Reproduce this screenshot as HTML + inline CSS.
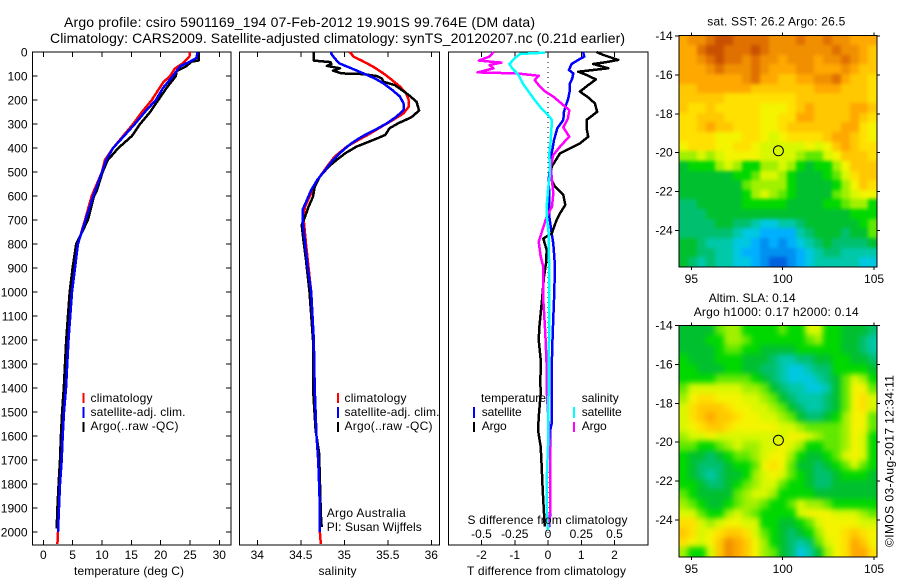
<!DOCTYPE html>
<html>
<head>
<meta charset="utf-8">
<title>Argo profile</title>
<style>
html,body{margin:0;padding:0;background:#fff;}
svg{display:block;font-family:"Liberation Sans",sans-serif;font-size:12px;fill:#000;}
</style>
</head>
<body>
<svg id="chart" width="900" height="580" viewBox="0 0 900 580" xmlns="http://www.w3.org/2000/svg">
<defs>
<filter id="soft1" x="-5%" y="-5%" width="110%" height="110%" color-interpolation-filters="sRGB"><feGaussianBlur stdDeviation="1.8"/></filter>
<filter id="soft2" x="-5%" y="-5%" width="110%" height="110%" color-interpolation-filters="sRGB"><feGaussianBlur stdDeviation="3"/></filter>
<clipPath id="clip1"><rect x="679" y="35.5" width="198" height="231.5"/></clipPath>
<clipPath id="clip2"><rect x="679" y="325.5" width="198" height="231.5"/></clipPath>
</defs>
<rect width="900" height="580" fill="#fff"/>
<text x="64" y="27" font-size="14" textLength="471">Argo profile: csiro 5901169_194 07-Feb-2012 19.901S 99.764E (DM data)</text>
<text x="50" y="43" font-size="14" textLength="575">Climatology: CARS2009. Satellite-adjusted climatology: synTS_20120207.nc (0.21d earlier)</text>

<g clip-path="url(#clip1)"><g id="heat1" filter="url(#soft1)"></g></g>
<g clip-path="url(#clip2)"><g id="heat2" filter="url(#soft2)"></g></g>
<g id="axes"></g>
<g id="lines"></g>

<text x="74" y="575" textLength="110">temperature (deg C)</text>
<text x="318.5" y="575" textLength="38">salinity</text>
<text x="467" y="575" textLength="159">T difference from climatology</text>
<text x="467.5" y="524" textLength="160">S difference from climatology</text>

<g>
<rect x="82.5" y="393" width="2" height="10" fill="#f00"/>
<rect x="82.5" y="407" width="2" height="11" fill="#00f"/>
<rect x="82.5" y="422" width="2" height="10" fill="#000"/>
<text x="90.5" y="402" textLength="62">climatology</text>
<text x="90.5" y="416" textLength="95">satellite-adj. clim.</text>
<text x="90.5" y="430" textLength="88">Argo(..raw -QC)</text>
</g>
<g>
<rect x="337" y="393" width="2" height="10" fill="#f00"/>
<rect x="337" y="407" width="2" height="11" fill="#00f"/>
<rect x="337" y="422" width="2" height="10" fill="#000"/>
<text x="344.5" y="402" textLength="62">climatology</text>
<text x="344.5" y="416" textLength="95">satellite-adj. clim.</text>
<text x="344.5" y="430" textLength="88">Argo(..raw -QC)</text>
</g>
<text x="326.7" y="517" textLength="79">Argo Australia</text>
<text x="326.7" y="531" textLength="95">PI: Susan Wijffels</text>
<g>
<text x="481" y="402" textLength="65">temperature</text>
<text x="581.7" y="402" textLength="37">salinity</text>
<rect x="473" y="407" width="2" height="11" fill="#00f"/>
<rect x="473" y="422" width="2" height="10" fill="#000"/>
<rect x="573" y="407" width="2" height="11" fill="#0ff"/>
<rect x="573" y="422" width="2" height="10" fill="#f0f"/>
<text x="481.7" y="416" textLength="40">satellite</text>
<text x="481.7" y="430" textLength="25">Argo</text>
<text x="581.7" y="416" textLength="40">satellite</text>
<text x="581.7" y="430" textLength="25">Argo</text>
</g>

<text x="707.3" y="25.5" textLength="138">sat. SST: 26.2 Argo: 26.5</text>
<text x="708.7" y="302" textLength="87">Altim. SLA: 0.14</text>
<text x="693.7" y="316" textLength="165">Argo h1000: 0.17 h2000: 0.14</text>
<text transform="translate(893.5 547) rotate(-90)" textLength="172">©IMOS 03-Aug-2017 12:34:11</text>

<script>
/* ---------- data ---------- */
const depthTicks = [0,100,200,300,400,500,600,700,800,900,1000,1100,1200,1300,1400,1500,1600,1700,1800,1900,2000];
const tempTicks = [0,5,10,15,20,25,30];
const salTicks = [34,34.5,35,35.5,36];
const tDiffTicks = [-2,-1,0,1,2];
const sDiffTicks = [-0.5,-0.25,0,0.25,0.5];
const sDiffTickLabels = ['-0.5','-0.25','0','0.25','0.5'];
const lonTicks = [95,100,105];
const latTicks = [-14,-16,-18,-20,-22,-24];
const argoLon = [99.764];
const argoLat = [-19.901];

const tempClimDepth = [0,20,50,70,100,125,150,200,250,300,350,400,450,500,600,700,800,900,1000,1200,1400,1500,1600,1700,1800,1900,2000,2050];
const tempClimValues = [25,24.9,23.6,22.4,21.6,20.5,19.8,18.5,16.8,15.3,13.6,11.9,10.5,10,8.25,7.1,5.9,5.4,4.9,4.3,3.87,3.53,3.3,3.13,2.85,2.68,2.5,2.4];
const tempSatDepth = [0,25,40,60,80,100,150,200,250,300,350,400,450,500,600,700,800,900,1000,1200,1400,1500,1600,1700,1800,1900,2000];
const tempSatValues = [26.3,26.1,25,23.3,22.7,22.1,20.4,19.2,17.3,15.6,13.75,11.9,10.7,10,8.5,7.2,5.9,5.4,4.9,4.3,3.87,3.53,3.3,3.13,2.85,2.68,2.5];
const tempArgoDepth = [0,35,40,60,80,100,150,200,250,300,350,400,450,500,575,600,700,800,900,1000,1200,1400,1500,1600,1700,1800,1900,1985];
const tempArgoValues = [26.5,26.5,25.3,24.3,22.7,22.6,21,19.6,18.2,16.5,15.1,12.8,11,10.1,9.15,8.65,7.6,5.6,5,4.5,3.9,3.5,3.2,3,2.85,2.6,2.4,2.28];

const salClimDepth = [0,20,36,61,89,117,144,172,200,228,256,283,311,339,367,394,436,478,519,561,603,644,686,800,900,1000,1200,1400,1500,1600,1700,1800,1900,2000,2050];
const salClimValues = [35.06,35.11,35.2,35.33,35.45,35.55,35.64,35.71,35.74,35.74,35.68,35.56,35.43,35.3,35.16,35.03,34.89,34.8,34.72,34.66,34.6,34.55,34.53,34.56,34.59,34.62,34.65,34.66,34.67,34.68,34.7,34.71,34.72,34.72,34.73];
const salSatDepth = [0,8,26,47,68,89,110,131,158,186,214,242,269,297,325,353,381,408,450,492,533,575,617,658,700,800,900,1000,1200,1400,1500,1600,1700,1800,1900,2000];
const salSatValues = [34.85,34.85,34.89,34.94,35.08,35.22,35.35,35.45,35.55,35.64,35.68,35.68,35.6,35.49,35.35,35.2,35.08,34.99,34.87,34.78,34.69,34.62,34.57,34.52,34.52,34.55,34.58,34.62,34.65,34.66,34.67,34.68,34.7,34.71,34.72,34.72];
const salArgoDepth = [0,36,42,50,58,68,78,89,92,100,110,124,138,158,179,207,244,272,297,318,346,367,394,422,450,478,519,561,603,644,686,720,783,867,1000,1200,1400,1575,1671,1786,1925,1980];
const salArgoValues = [34.65,34.65,34.84,34.85,34.8,34.95,34.87,34.97,35.22,35.37,35.43,35.45,35.58,35.66,35.74,35.83,35.86,35.77,35.62,35.52,35.47,35.33,35.14,35.01,34.91,34.82,34.72,34.66,34.64,34.59,34.55,34.51,34.53,34.56,34.6,34.64,34.64,34.67,34.71,34.72,34.73,34.74];

const tDiffSatDepth = [0,19,33,50,75,89,110,131,158,193,221,249,283,318,367,422,478,533,603,686,756,798,895,1033,1172,1311,1450,1547,1575,1645,1853,1922,1980];
const tDiffSatValues = [1.06,1.09,0.91,0.71,0.63,0.76,0.73,0.66,0.66,0.61,0.54,0.48,0.46,0.28,0.18,0.11,0.06,0.02,0.04,0.04,0.11,0.16,0.21,0.18,0.14,0.11,0.11,0.11,0.07,0.07,0.07,0.07,0.03];
const tDiffArgoDepth = [0,12,33,42,50,68,82,96,114,138,165,189,214,249,283,318,353,381,422,478,519,561,596,637,672,700,756,777,825,881,936,1033,1144,1200,1283,1381,1422,1506,1575,1645,1728,1825,1922,1978];
const tDiffArgoValues = [1.46,1.66,2.11,1.76,1.36,1.81,0.91,1.16,1.44,1.21,0.96,1.21,1.41,1.48,1.16,1.16,1.21,0.96,0.36,0.11,0.06,0.21,0.46,0.52,0.36,0.26,0.11,-0.14,-0.04,-0.06,-0.12,-0.18,-0.26,-0.28,-0.22,-0.23,-0.22,-0.27,-0.3,-0.22,-0.19,-0.16,-0.12,-0.1];
const sDiffSatDepth = [3,8,26,50,68,96,131,158,200,235,263,283,367,422,506,575,644,686,756,895,1033,1172,1311,1506,1645,1783,1922,1992];
const sDiffSatValues = [-0.023,-0.21,-0.25,-0.29,-0.27,-0.22,-0.19,-0.155,-0.1,-0.05,0,0.03,0.02,0.01,0.015,0,-0.01,-0.01,0.005,0.008,0.01,0.008,0.005,0.003,0,-0.01,-0.008,0];
const sDiffArgoDepth = [0,19,36,44,54,68,85,89,99,117,138,165,186,214,242,276,314,353,388,429,478,533,589,644,686,756,791,853,895,1033,1172,1242,1311,1409,1645,1783,1922,1978];
const sDiffArgoValues = [-0.41,-0.44,-0.52,-0.35,-0.44,-0.41,-0.53,-0.235,-0.07,-0.1,-0.07,-0.02,0.04,0.1,0.16,0.15,0.115,0.16,0.1,0.04,0.02,0.03,0.04,0.03,-0.01,-0.05,-0.07,-0.055,-0.035,-0.035,-0.02,-0.015,-0.01,-0.01,0.015,0.015,0.015,0.005];

/* colour levels per map cell, 0 = coldest/lowest, 17 = warmest/highest */
const sstLevels = [
[14,15,15,16,17,17,16,16,16,16,15,15,15,16,15,15,16,15,15,14,14,14],
[14,14,16,17,17,16,16,16,17,16,15,15,15,15,15,15,15,16,15,15,14,13],
[14,14,15,16,17,16,16,15,16,15,15,14,15,15,15,14,15,15,16,15,14,13],
[14,14,14,15,16,15,15,15,16,15,14,14,14,15,15,14,14,14,15,14,13,13],
[14,14,14,14,14,14,14,15,16,14,14,13,13,14,14,15,15,16,14,13,13,12],
[13,13,14,14,14,14,14,14,13,13,13,13,13,13,13,14,14,14,13,13,13,12],
[13,13,13,13,13,12,12,12,12,12,12,12,12,13,13,13,13,13,13,13,13,12],
[13,12,12,13,12,12,12,12,12,11,11,11,12,13,14,13,13,13,13,14,14,13],
[12,12,13,13,13,12,12,12,12,11,11,12,12,14,14,13,13,13,13,14,13,12],
[12,12,13,14,13,13,12,12,12,11,11,12,13,13,13,13,13,13,14,14,12,11],
[12,12,12,12,11,11,11,12,12,11,10,11,12,12,12,12,13,14,14,13,12,11],
[11,12,12,12,11,11,12,12,11,10,10,10,10,10,11,10,11,13,14,13,12,12],
[9,9,10,9,10,11,11,11,11,10,10,10,10,9,8,8,10,11,13,13,13,12],
[6,7,7,7,9,10,9,7,7,9,9,10,9,7,6,7,7,9,11,13,13,13],
[6,6,6,6,6,6,7,7,8,10,10,9,7,6,6,6,7,8,10,12,13,13],
[6,6,6,6,6,6,6,8,9,9,9,9,7,6,6,6,6,7,9,11,13,12],
[6,6,6,6,6,6,6,7,9,10,9,8,7,6,6,6,6,8,9,10,11,11],
[5,5,6,6,6,6,6,7,7,7,7,7,6,6,6,6,7,7,8,9,9,7],
[5,5,5,6,6,6,6,6,6,6,6,6,6,6,6,6,6,6,6,7,7,7],
[5,5,5,5,6,6,5,5,4,3,3,4,4,5,6,6,6,6,6,6,7,8],
[5,5,5,5,5,5,4,3,3,2,2,2,2,4,5,6,6,6,5,6,6,8],
[6,6,5,4,4,4,3,3,2,1,2,1,2,3,4,5,6,5,5,5,5,6],
[6,6,5,5,4,4,3,2,2,1,1,1,1,2,3,4,5,5,4,4,4,4],
[6,5,4,5,4,4,3,3,2,1,0,0,1,2,3,4,4,4,4,4,3,3]
];
const slaLevels = [
[6,6,6,6,8,9,9,7,7,7,7,8,7,7,10,10,7,7,6,6,6,5],
[6,6,6,7,7,9,9,8,7,7,7,7,7,7,8,9,7,7,6,6,5,4],
[6,6,6,6,7,8,8,7,7,6,6,6,6,7,7,7,7,7,6,6,5,4],
[7,6,6,6,7,7,7,6,6,6,5,4,4,5,5,6,6,7,7,6,6,5],
[7,7,6,6,6,7,7,6,6,5,5,4,3,3,4,5,5,7,7,7,7,6],
[7,7,7,7,8,8,8,8,7,6,5,4,3,3,3,4,5,6,8,10,9,7],
[8,10,10,10,10,10,10,9,9,8,6,5,4,4,3,3,4,6,8,11,11,8],
[9,11,12,12,11,11,11,10,10,9,8,6,5,4,4,4,5,6,8,11,12,10],
[10,12,13,13,13,12,11,11,10,10,9,8,6,5,4,4,5,6,8,11,12,10],
[10,12,13,14,13,13,12,11,11,10,10,9,8,6,5,5,6,7,9,11,11,8],
[10,11,12,13,13,12,11,11,11,11,11,10,10,9,8,8,8,8,9,11,11,8],
[9,10,10,11,10,10,10,10,10,10,10,10,11,11,10,9,8,8,9,11,10,7],
[8,8,7,7,8,9,10,9,9,10,10,11,10,9,7,7,8,8,9,11,10,7],
[7,6,6,5,6,7,8,8,9,10,11,11,9,7,6,6,7,8,10,11,10,7],
[7,6,5,5,5,6,7,7,8,11,12,11,8,6,6,5,6,7,8,10,8,7],
[7,6,5,4,5,6,6,7,9,10,11,10,8,7,6,5,5,6,7,7,7,6],
[7,7,6,5,5,6,7,8,9,10,10,8,7,7,6,5,5,6,6,6,6,6],
[8,7,6,6,6,6,8,9,10,10,9,7,7,7,7,6,6,6,6,6,6,6],
[9,8,7,6,6,7,8,9,9,8,7,7,8,10,9,9,8,7,7,7,7,7],
[10,10,8,7,7,9,10,9,8,7,7,7,7,10,11,11,11,10,10,10,9,8],
[12,12,10,9,10,11,11,10,10,7,7,6,6,7,8,10,11,11,11,11,10,10],
[13,12,10,11,12,13,13,12,10,8,7,6,5,6,7,9,11,11,12,13,12,11],
[12,11,10,11,13,15,14,13,11,9,7,6,5,4,5,8,10,11,12,14,13,11],
[9,7,7,10,13,15,14,13,11,9,8,6,5,3,4,6,9,11,12,14,14,12]
];

/* ---------- scales ---------- */
const NS = 'http://www.w3.org/2000/svg';
const axesLayer = document.getElementById('axes');
const lineLayer = document.getElementById('lines');
const TOP = 52, BOTTOM = 545;
function yDepth(d){ return TOP + 0.24 * d; }
function xTemp(v){ return 43.3 + 5.867 * v; }
function xSal(v){ return 257.3 + 87 * (v - 34); }
function xTDiff(v){ return 548 + 33.25 * v; }
function xSDiff(v){ return 548 + 133 * v; }
function xLon(v){ return 782.7 + 18.27 * (v - 100); }
function yLatTop(v){ return 36 + 19.45 * (-14 - v); }
function yLatBottom(v){ return 325.5 + 19.45 * (-14 - v); }

const palette = ['#0060e0','#0090f0','#00b0ff','#00c8e0','#00c8a8','#00c070','#00c030','#00d800','#60e800','#a0f000','#d8f800','#f4f400','#ffe000','#ffc800','#ffa800','#f09000','#e07000','#c85000'];
function levelColor(v){ return palette[Math.max(0, Math.min(palette.length - 1, Math.round(v)))]; }

function mk(tag, attrs, parent, txt){
  const el = document.createElementNS(NS, tag);
  for (const k in attrs) el.setAttribute(k, attrs[k]);
  if (txt !== undefined) el.textContent = txt;
  parent.appendChild(el);
  return el;
}

/* ---------- axes ---------- */
function tickLine(x1, y1, x2, y2){
  const el = mk('line', {x1:x1, y1:y1, x2:x2, y2:y2, stroke:'#000', 'stroke-width':1, 'shape-rendering':'crispEdges'}, axesLayer);
  
  
}
function tickLabel(x, y, anchor, txt){
  const el = mk('text', {x:x, y:y, 'text-anchor':anchor}, axesLayer, txt);
  
  
}
function frame(x, y, w, h){
  const el = mk('rect', {x:x, y:y, width:w, height:h, fill:'none', stroke:'#000', 'stroke-width':1, 'shape-rendering':'crispEdges'}, axesLayer);
  
  
}
function profileXTicks(ticks, scale, labels, labelY){
  ticks.forEach(function(v, i){
    const x = scale(v);
    tickLine(x, BOTTOM, x, BOTTOM - 5);
    tickLine(x, TOP, x, TOP + 5);
    if (labels) tickLabel(x, labelY, 'middle', labels[i]);
  });
}
frame(32.5, TOP, 198.5, BOTTOM - TOP);
frame(239.5, TOP, 200, BOTTOM - TOP);
frame(448.5, TOP, 199.5, BOTTOM - TOP);
profileXTicks(tempTicks, xTemp, tempTicks.map(String), 559);
profileXTicks(salTicks, xSal, salTicks.map(String), 559);
profileXTicks(tDiffTicks, xTDiff, tDiffTicks.map(String), 559);
sDiffTicks.forEach(function(v, i){
  tickLabel(xSDiff(v), 538, 'middle', sDiffTickLabels[i]);
});
depthTicks.forEach(function(d){
  const y = yDepth(d);
  tickLine(32.5, y, 37.5, y);
  tickLine(231, y, 226, y);
  tickLabel(27.5, y + 4.5, 'end', String(d));
});

function mapAxes(yScale, yBox, labelY){
  frame(679, yBox, 198, 231.5);
  lonTicks.forEach(function(v){
    const x = xLon(v);
    tickLine(x, yBox, x, yBox - 3);
    tickLine(x, yBox + 231.5, x, yBox + 234.5);
    tickLabel(x, labelY, 'middle', String(v));
  });
  latTicks.forEach(function(v){
    const y = yScale(v);
    tickLine(679, y, 675, y);
    tickLine(877, y, 880, y);
    tickLabel(672.7, y + 4, 'end', String(v));
  });
  const c = mk('circle', {cx:xLon(argoLon[0]), cy:yScale(argoLat[0]), r:5, fill:'none', stroke:'#000', 'stroke-width':1}, axesLayer);
  
  
}

/* ---------- heat maps ---------- */
function drawHeat(levels, groupId, yTop, yBottom){
  const g = document.getElementById(groupId);
  const left = 679.3, right = 877, pad = 10;
  const w = (right - left) / levels[0].length;
  const h = (yBottom - yTop) / levels.length;
  levels.forEach(function(row, r){
    row.forEach(function(v, c){
      const x0 = Math.round(left + c * w) - (c === 0 ? pad : 0);
      const x1 = Math.round(left + (c + 1) * w) + (c === row.length - 1 ? pad : 0);
      const y0 = Math.round(yTop + r * h) - (r === 0 ? pad : 0);
      const y1 = Math.round(yTop + (r + 1) * h) + (r === levels.length - 1 ? pad : 0);
      const cell = mk('rect', {x:x0, y:y0, width:x1 - x0, height:y1 - y0, fill:levelColor(v), 'shape-rendering':'crispEdges'}, g);
      
      
    });
  });
}
drawHeat(sstLevels, 'heat1', 35.5, 267);
drawHeat(slaLevels, 'heat2', 325.5, 557);
mapAxes(yLatTop, 35.5, 283);
mapAxes(yLatBottom, 325.5, 573);

/* ---------- profile lines ---------- */
function drawLine(depths, values, scale, color, name){
  const pts = values.map(function(v, i){ return scale(v).toFixed(1) + ',' + yDepth(depths[i]).toFixed(1); }).join(' ');
  const el = mk('polyline', {points:pts, fill:'none', stroke:color, 'stroke-width':2.5, 'stroke-linejoin':'round', 'shape-rendering':'crispEdges'}, lineLayer);
  
  
}
const zero = mk('line', {x1:xTDiff(0), y1:TOP, x2:xTDiff(0), y2:BOTTOM, stroke:'#000', 'stroke-width':1, 'stroke-dasharray':'1 4', 'shape-rendering':'crispEdges'}, lineLayer);



drawLine(tempClimDepth, tempClimValues, xTemp, '#f00', 'temperature-climatology-line');
drawLine(tempArgoDepth, tempArgoValues, xTemp, '#000', 'temperature-argo-line');
drawLine(tempSatDepth, tempSatValues, xTemp, '#00f', 'temperature-satellite-line');
drawLine(salClimDepth, salClimValues, xSal, '#f00', 'salinity-climatology-line');
drawLine(salArgoDepth, salArgoValues, xSal, '#000', 'salinity-argo-line');
drawLine(salSatDepth, salSatValues, xSal, '#00f', 'salinity-satellite-line');
drawLine(tDiffSatDepth, tDiffSatValues, xTDiff, '#00f', 't-difference-satellite-line');
drawLine(tDiffArgoDepth, tDiffArgoValues, xTDiff, '#000', 't-difference-argo-line');
drawLine(sDiffArgoDepth, sDiffArgoValues, xSDiff, '#f0f', 's-difference-argo-line');
drawLine(sDiffSatDepth, sDiffSatValues, xSDiff, '#0ff', 's-difference-satellite-line');
</script>
</svg>
</body>
</html>
